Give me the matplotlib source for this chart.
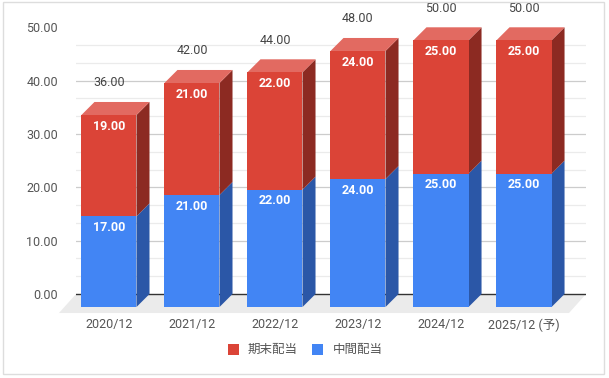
import matplotlib
matplotlib.use("Agg")
from matplotlib import pyplot as plt
from matplotlib.patches import Polygon, Rectangle

plt.rcParams['font.family'] = ['Roboto', 'Noto Sans CJK JP', 'DejaVu Sans']

# data
categories = ['2020/12', '2021/12', '2022/12', '2023/12', '2024/12', '2025/12 (予)']
interim = [17.0, 21.0, 22.0, 24.0, 25.0, 25.0]      # 中間配当
year_end = [19.0, 21.0, 22.0, 24.0, 25.0, 25.0]     # 期末配当
totals = [a + b for a, b in zip(interim, year_end)]

# colours
blue, blue_side, blue_top = '#4285F4', '#2B57A7', '#6C9FF6'
red, red_side, red_top = '#DB4437', '#8C2A22', '#E26A61'

fig = plt.figure(figsize=(6.09, 3.78), dpi=100)
W, H = 609.0, 378.0
ax = fig.add_axes([76 / W, (378 - 320.7) / H, 510 / W, 293.4 / H])
ax.set_xlim(-0.554, 5.59)
ax.set_ylim(-5, 50)
for s in ax.spines.values():
    s.set_visible(False)
ax.set_xticks([])
ax.set_yticks([0, 10, 20, 30, 40, 50])
ax.set_yticklabels(['%.2f' % v for v in [0, 10, 20, 30, 40, 50]])
ax.tick_params(axis='y', length=0, pad=13, labelsize=9, labelcolor='#555555')

# depth of the 3d effect, in data units
dx, dy = 0.157, 2.44
w = 0.663

# floor
ax.add_patch(Polygon([(-0.554, 0), (5.59, 0), (5.59 - 0.205, -3.56), (-0.554 - 0.205, -3.56)],
                     closed=True, fc='#EBEBEB', ec='none', zorder=0, clip_on=False))

# gridlines
for k in range(1, 15):
    v = k * 10 / 3
    if k % 3 == 0:
        ax.axhline(v, color='#CCCCCC', lw=0.9, zorder=1)
    else:
        ax.axhline(v, color='#EBEBEB', lw=0.9, zorder=1)
ax.axhline(0, color='#333333', lw=1.0, zorder=1)


def draw_segment(i, y0, y1, front, side, top, with_top):
    xl = i - dx - w / 2
    xr = i - dx + w / 2
    ax.add_patch(Polygon([(xr, y0 - dy), (xr + dx, y0), (xr + dx, y1), (xr, y1 - dy)],
                         closed=True, fc=side, ec='none', zorder=3, clip_on=False))
    if with_top:
        ax.add_patch(Polygon([(xl, y1 - dy), (xl + dx, y1), (xr + dx, y1), (xr, y1 - dy)],
                             closed=True, fc=top, ec='none', zorder=3, clip_on=False))


x_front = [i - dx for i in range(len(categories))]
for i in range(len(categories)):
    draw_segment(i, 0, interim[i], blue, blue_side, blue_top, False)
    draw_segment(i, interim[i], totals[i], red, red_side, red_top, True)

ax.bar(x_front, interim, width=w, bottom=[-dy] * len(interim), color=blue, zorder=4)
ax.bar(x_front, year_end, width=w, bottom=[v - dy for v in interim], color=red, zorder=4)

for i in range(len(categories)):
    ax.text(x_front[i], interim[i] - dy - 2.1, '%.2f' % interim[i], ha='center', va='center',
            color='white', fontsize=9, fontweight='bold', zorder=5)
    ax.text(x_front[i], totals[i] - dy - 2.1, '%.2f' % year_end[i], ha='center', va='center',
            color='white', fontsize=9, fontweight='bold', zorder=5)
    ax.text(x_front[i], totals[i] - dy + 6.0, '%.2f' % totals[i], ha='center', va='center',
            color='#444444', fontsize=9, zorder=5, clip_on=False)
    ax.text(x_front[i], -5.8, categories[i], ha='center', va='center',
            color='#555555', fontsize=9, clip_on=False)

# legend
fig.add_artist(Rectangle((228 / W, 1 - 355 / H), 11 / W, 11 / H, transform=fig.transFigure,
                         fc=red, ec='none'))
fig.text(248 / W, 1 - 349 / H, '期末配当', ha='left', va='center', fontsize=9, color='#555555')
fig.add_artist(Rectangle((312 / W, 1 - 355 / H), 11 / W, 11 / H, transform=fig.transFigure,
                         fc=blue, ec='none'))
fig.text(333 / W, 1 - 349 / H, '中間配当', ha='left', va='center', fontsize=9, color='#555555')

# outer frame
fig.add_artist(Rectangle((3 / W, 1 - 374 / H), 601 / W, 372 / H, transform=fig.transFigure,
                         fill=False, ec='#DDDDDD', lw=1))

fig.savefig('out.png', dpi=100)
